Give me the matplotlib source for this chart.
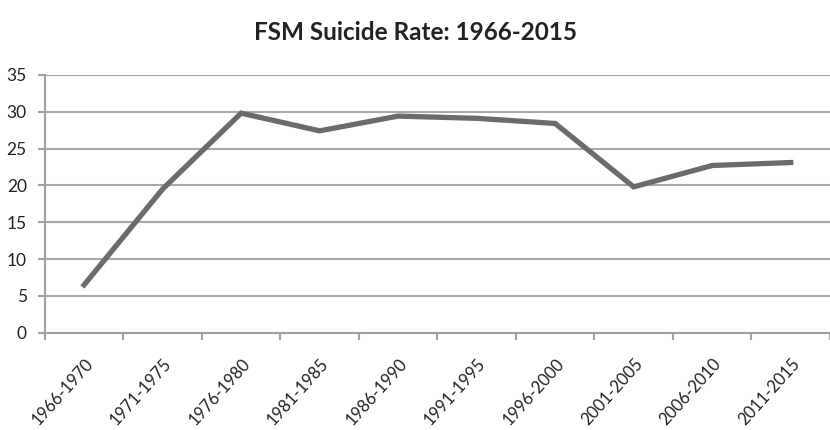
import matplotlib
matplotlib.use('Agg')
import matplotlib.pyplot as plt
import numpy as np

periods = ['1966-1970', '1971-1975', '1976-1980', '1981-1985', '1986-1990',
           '1991-1995', '1996-2000', '2001-2005', '2006-2010', '2011-2015']
rates = [6.5, 19.5, 29.8, 27.4, 29.4, 29.1, 28.4, 19.8, 22.7, 23.1]
y_ticks = [0, 5, 10, 15, 20, 25, 30, 35]

fig = plt.figure(figsize=(8.3, 4.3), dpi=100)
ax = fig.add_axes([0.054, 0.226, 0.946, 0.60])

x = np.arange(len(periods))
ax.plot(x, rates, color='#6b6b6b', linewidth=3.8, solid_joinstyle='miter', zorder=3)

# Axes / grille
ax.set_xlim(-0.5, len(periods) - 0.5)
ax.set_ylim(0, 35)
ax.set_yticks(y_ticks)
ax.yaxis.grid(True, color='#a8a8a8', linewidth=1.5)
ax.set_axisbelow(True)
for s in ['top', 'right']:
    ax.spines[s].set_visible(False)
ax.spines['left'].set_color('#a0a0a0')
ax.spines['left'].set_linewidth(1.5)
ax.spines['bottom'].set_color('#a0a0a0')
ax.spines['bottom'].set_linewidth(1.5)

ax.set_xticks(x)
ax.set_xticklabels(periods, rotation=48, ha='right', rotation_mode='anchor',
                   fontsize=12, family='Lato', color='#222222')
ax.tick_params(axis='x', length=0, pad=16)
ax.set_xticks(np.arange(-0.5, len(periods)), minor=True)
ax.tick_params(axis='x', which='minor', length=5, color='#a0a0a0', width=1.5)
ax.tick_params(axis='y', length=5, color='#a0a0a0', width=1.5, labelsize=12.5, pad=8)
for lbl in ax.get_yticklabels():
    lbl.set_family('Lato')
    lbl.set_color('#222222')

fig.text(0.5, 0.925, 'FSM Suicide Rate: 1966-2015', ha='center', va='center',
         fontsize=17.5, fontweight='bold', family='Lato', color='#222222')

fig.savefig('out.png', dpi=100)
plt.close(fig)
